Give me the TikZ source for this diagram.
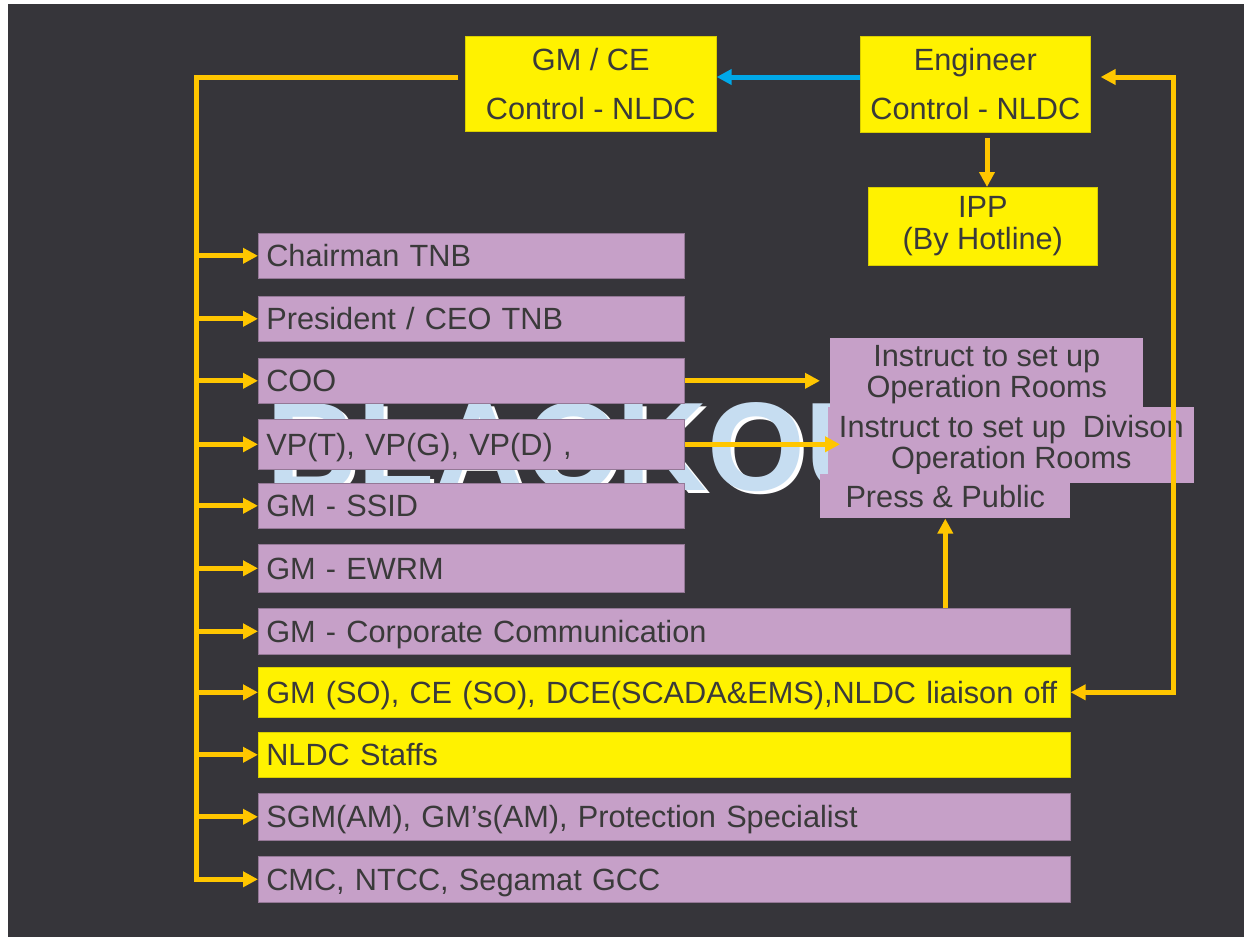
\documentclass[tikz,border=0pt]{standalone}
\usepackage{fontspec}
\setmainfont{Liberation Sans}
\usetikzlibrary{arrows.meta,calc}
\definecolor{bg}{HTML}{36353A}
\definecolor{yl}{HTML}{FFF200}
\definecolor{pur}{HTML}{C6A0C8}
\definecolor{ln}{HTML}{FFC600}
\definecolor{bl}{HTML}{00A8E8}
\definecolor{tx}{HTML}{3A3A3A}
\definecolor{bo}{HTML}{C6DDF1}
\begin{document}
\begin{tikzpicture}[x=1pt,y=-1pt,
  every node/.style={font=\fontsize{30.7}{32}\selectfont, text=tx},
  lbox/.style={anchor=north west, inner xsep=8pt, inner ysep=0pt, align=left,
    text height=24pt, text depth=2pt, line width=0.6pt},
  short/.style={lbox, text width=410pt},
  long/.style={lbox, text width=796pt},
  pfill/.style={fill=pur, draw=pur!75!black},
  yfill/.style={fill=yl, draw=yl!85!black},
  cbox/.style={anchor=north west, inner sep=0pt, align=center, line width=0.6pt},
  rfill/.style={fill=pur},
  tip/.tip={Triangle[length=15pt,width=15pt]},
  conn/.style={draw=ln, line width=5pt, -tip},
  dconn/.style={draw=ln, line width=5pt, tip-tip},
  bconn/.style={draw=bl, line width=5pt, -tip},
  big/.style={anchor=base west, inner sep=0pt, font=\fontsize{126}{130}\selectfont\bfseries}
]
\useasboundingbox (0,0) rectangle (1244,937);
\fill[white] (0,0) rectangle (1244,937);
\fill[bg] (8,4) rectangle (1244,937);

% background word
\node[big, text=white] (bkw) at (270,493) {BLACKOUT};
\node[big, text=bo] (bkb) at (266,490) {BLACKOUT};

% top boxes
\node[cbox, yfill, minimum width=251pt, minimum height=95pt] (gmce) at (465,36) {GM / CE\\[17pt]Control - NLDC};
\node[cbox, yfill, minimum width=230pt, minimum height=96pt] (eng) at (860,36) {Engineer\\[17pt]Control - NLDC};
\node[cbox, yfill, minimum width=229pt, minimum height=78pt] (ipp) at (868,187) {IPP\\(By Hotline)};

% left list
\node[short, pfill, minimum height=45pt] (chair) at (258,233) {Chairman TNB};
\node[short, pfill, minimum height=45pt] (pres) at (258,296) {President / CEO TNB};
\node[short, pfill, minimum height=45pt] (coo) at (258,358) {COO};
\node[short, pfill, minimum height=50pt] (vp) at (258,419) {VP(T), VP(G), VP(D) ,};
\node[short, pfill, minimum height=45pt] (ssid) at (258,483) {GM - SSID};
\node[short, pfill, minimum height=48pt] (ewrm) at (258,544) {GM - EWRM};
\node[long, pfill, minimum height=46pt] (corp) at (258,608) {GM - Corporate Communication};
\node[long, yfill, minimum height=50pt] (so) at (258,667) {\mbox{GM (SO), CE (SO), DCE(SCADA\&EMS),NLDC liaison off}};
\node[long, yfill, minimum height=45pt] (staff) at (258,732) {NLDC Staffs};
\node[long, pfill, minimum height=47pt] (sgm) at (258,793) {SGM(AM), GM's(AM), Protection Specialist};
\node[long, pfill, minimum height=46pt] (cmc) at (258,856) {CMC, NTCC, Segamat GCC};

% right boxes
\node[cbox, rfill, minimum width=313pt, minimum height=72pt] (ops) at (830,338) {Instruct to set up\\[-1pt]Operation Rooms};
\node[cbox, rfill, minimum width=366pt, minimum height=76pt] (div) at (828,407) {Instruct to set up\ \ Divison\\[-1pt]Operation Rooms};
\node[cbox, rfill, minimum width=250pt, minimum height=44pt] (press) at (820,474) {Press \& Public};

% connectors
\coordinate (tl) at (196,77);
\coordinate (tr) at (1173,77);
\coordinate (ea) at (987,138);
\draw[conn] ($(gmce.west |- tl)+(-7,0)$) -- (tl) -- (tl |- cmc.west) -- (cmc.west);
\foreach \n in {chair,pres,coo,vp,ssid,ewrm,corp,so,staff,sgm}
  \draw[conn] (tl |- \n.west) -- (\n.west);
\draw[bconn] (eng.west |- tl) -- (gmce.east |- tl);
\draw[dconn] (so.east) -| (tr) -- ($(eng.east |- tr)+(10,0)$);
\draw[conn] (ea) -- (ea |- ipp.north);
\draw[conn] (coo.east) -- ($(coo.east -| ops.west)+(-10,0)$);
\draw[conn] (vp.east) -- ($(vp.east -| div.west)+(12,0)$);
\draw[conn] (press.south |- corp.north) -- (press.south);
\end{tikzpicture}
\end{document}
